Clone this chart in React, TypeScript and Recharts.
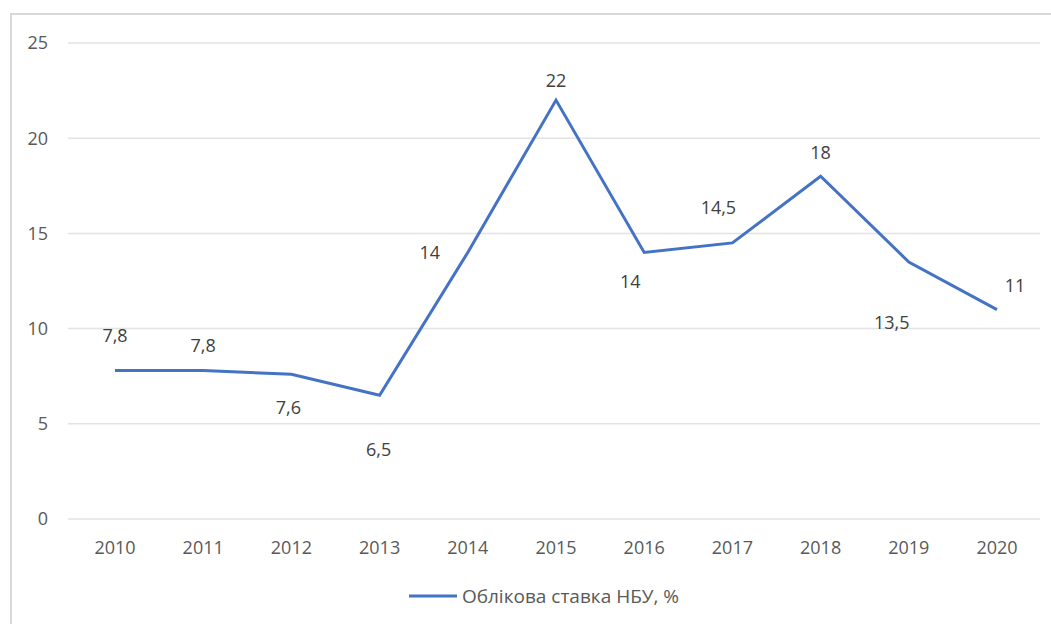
import { LineChart, Line, XAxis, YAxis, CartesianGrid, LabelList, Legend } from 'recharts'

const years = ['2010', '2011', '2012', '2013', '2014', '2015', '2016', '2017', '2018', '2019', '2020']
const rates = [7.8, 7.8, 7.6, 6.5, 14, 22, 14, 14.5, 18, 13.5, 11]
const yTicks = [0, 5, 10, 15, 20, 25]
const seriesName = 'Облікова ставка НБУ, %'

// label offsets (dx, dy) from each point, as placed in the original
const labelOffsets: [number, number][] = [
  [0, -34], [0, -24], [-3, 34], [-1, 55], [-38, 1], [0, -19],
  [-14, 30], [-14, -35], [0, -23], [-17, 61], [18, -24],
]

const data = years.map((year, i) => ({ year, rate: rates[i] }))

const FONT = "'Open Sans', 'Noto Sans', sans-serif"

function PointLabel(props: any) {
  const { x, y, value, index } = props
  const [dx, dy] = labelOffsets[index] ?? [0, -20]
  return (
    <text x={x + dx} y={y + dy} dy={6} textAnchor="middle" fontSize={18} fill="#404040" fontFamily={FONT}>
      {String(value).replace('.', ',')}
    </text>
  )
}

function LegendContent() {
  return (
    <div style={{ display: 'flex', justifyContent: 'center', alignItems: 'center', fontFamily: FONT, fontSize: 19, color: '#595959', paddingTop: 4, paddingLeft: 40 }}>
      <svg width={48} height={10} style={{ marginRight: 5 }}>
        <line x1={0} y1={5} x2={48} y2={5} stroke="#4472C4" strokeWidth={3} />
      </svg>
      <span>{seriesName}</span>
    </div>
  )
}

export default function App() {
  return (
    <div style={{ position: 'absolute', left: 0, top: 0, width: 1051, height: 624, background: '#fff' }}>
      <div style={{ position: 'absolute', left: 10, top: 13, right: 0, bottom: 0, borderTop: '2px solid #d9d9d9', borderLeft: '2px solid #d9d9d9' }} />
      <div style={{ position: 'absolute', left: 0, top: 0 }}>
        <LineChart width={1051} height={624} data={data} margin={{ top: 43, right: 11, bottom: 15, left: 8 }}>
          <CartesianGrid vertical={false} stroke="#e3e3e3" strokeWidth={1.5} />
          <XAxis
            dataKey="year"
            padding={{ left: 47, right: 43 }}
            axisLine={false}
            tickLine={false}
            tick={{ fontSize: 18, fill: '#595959', fontFamily: FONT }}
            tickMargin={16}
            height={60}
          />
          <YAxis
            domain={[0, 25]}
            ticks={yTicks}
            axisLine={false}
            tickLine={false}
            width={60}
            tick={{ fontSize: 18, fill: '#595959', fontFamily: FONT }}
            tickMargin={14}
          />
          <Legend verticalAlign="bottom" height={30} content={<LegendContent />} />
          <Line
            type="linear"
            dataKey="rate"
            name={seriesName}
            stroke="#4472C4"
            strokeWidth={3}
            dot={false}
            isAnimationActive={false}
          >
            <LabelList dataKey="rate" content={<PointLabel />} />
          </Line>
        </LineChart>
      </div>
    </div>
  )
}
